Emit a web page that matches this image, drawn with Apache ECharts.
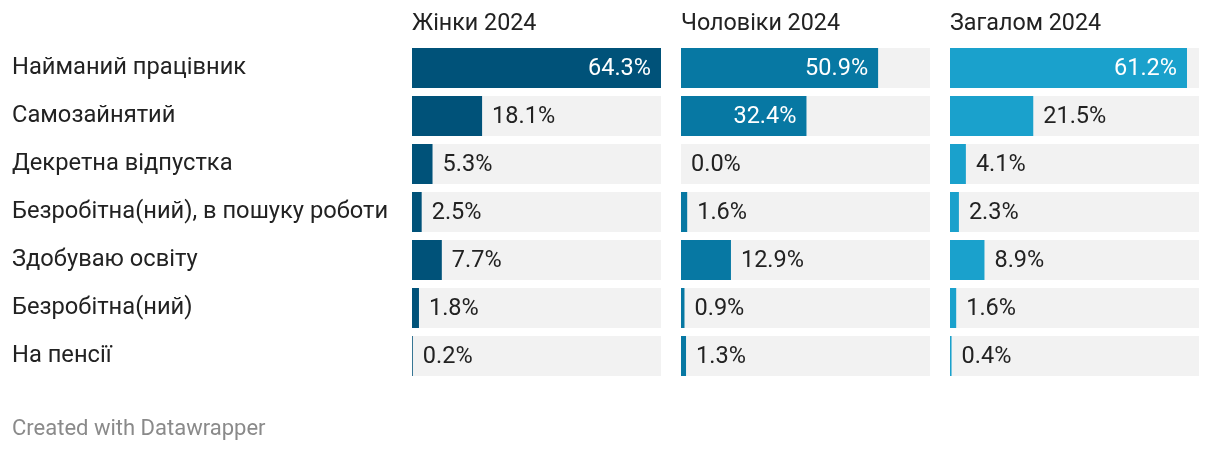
<!DOCTYPE html>
<html><head><meta charset="utf-8">
<script src="https://cdn.jsdelivr.net/npm/echarts@6/dist/echarts.min.js"></script>
<style>html,body{margin:0;padding:0;background:#fff}#c{width:1220px;height:452px}</style>
</head><body><div id="c"></div>
<script>
const categories = ['Найманий працівник','Самозайнятий','Декретна відпустка','Безробітна(ний), в пошуку роботи','Здобуваю освіту','Безробітна(ний)','На пенсії'];
const panelTitles = ['Жінки 2024','Чоловіки 2024','Загалом 2024'];
const women = [64.3, 18.1, 5.3, 2.5, 7.7, 1.8, 0.2];
const men = [50.9, 32.4, 0.0, 1.6, 12.9, 0.9, 1.3];
const total = [61.2, 21.5, 4.1, 2.3, 8.9, 1.6, 0.4];

const seriesData = [women, men, total];
const colors = ['#005279', '#0778a3', '#1aa1cc'];
const lefts = [412, 681, 950];
const W = 249;
const maxV = Math.max(...women, ...men, ...total);
const font = 'Roboto';

const grids = [], xAxes = [], yAxes = [], series = [], titles = [];
seriesData.forEach((vals, i) => {
  grids.push({left: lefts[i], width: W, top: 44, height: 336});
  xAxes.push({type: 'value', gridIndex: i, min: 0, max: maxV, show: false});
  yAxes.push({type: 'category', gridIndex: i, data: categories, inverse: true,
    axisLine: {show: false}, axisTick: {show: false}, splitLine: {show: false},
    axisLabel: i === 0 ? {show: true, align: 'left', margin: 400, padding: [3, 0, 0, 0], fontFamily: font, fontSize: 23.7, color: '#222'} : {show: false}});
  titles.push({text: panelTitles[i], left: lefts[i], top: 13, padding: 0,
    textStyle: {fontFamily: font, fontSize: 23.3, fontWeight: 'normal', color: '#222'}});
  series.push({
    type: 'bar', xAxisIndex: i, yAxisIndex: i, barWidth: 40,
    showBackground: true, backgroundStyle: {color: '#f2f2f2'},
    itemStyle: {color: colors[i]},
    data: vals.map(v => {
      const inside = v / maxV * W > 100;
      return {value: v, label: {show: true, position: inside ? 'insideRight' : 'right',
        distance: 10, offset: [0, 1.5], color: inside ? '#fff' : '#222', fontFamily: font, fontSize: 23.5,
        formatter: p => p.value.toFixed(1) + '%'}};
    })
  });
});
titles.push({text: 'Created with Datawrapper', left: 12, top: 418, padding: 0,
  textStyle: {fontFamily: font, fontSize: 22, fontWeight: 'normal', color: '#8a8a8a'}});

const chart = echarts.init(document.getElementById('c'), null, {renderer: 'canvas'});
chart.setOption({animation: false, title: titles, grid: grids, xAxis: xAxes, yAxis: yAxes, series: series});
</script></body></html>
